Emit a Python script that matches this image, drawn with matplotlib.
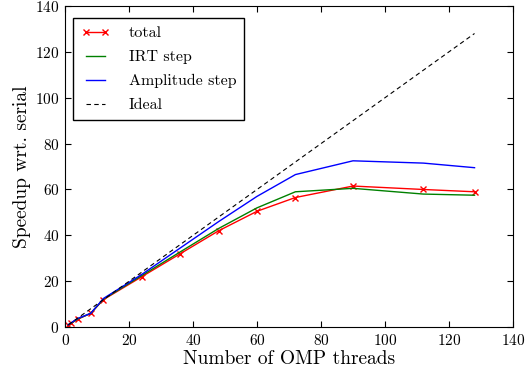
import matplotlib
matplotlib.use("Agg")
import matplotlib.pyplot as plt

threads = [1, 2, 4, 8, 12, 24, 36, 48, 60, 72, 90, 112, 128]
total = [1.0, 1.8, 3.5, 6.0, 12.0, 22.0, 32.0, 42.0, 50.5, 56.5, 61.5, 60.0, 59.0]
irt = [1.0, 1.8, 3.6, 6.0, 12.2, 22.5, 32.8, 43.0, 52.0, 59.0, 60.5, 58.0, 57.5]
amp = [1.0, 2.0, 3.8, 6.0, 12.5, 23.0, 34.5, 46.0, 57.0, 66.5, 72.5, 71.5, 69.5]
ideal = threads

plt.rcParams['font.family'] = 'serif'
plt.rcParams['font.serif'] = ['cmr10', 'DejaVu Serif']
plt.rcParams['mathtext.fontset'] = 'cm'
plt.rcParams['axes.formatter.use_mathtext'] = True

fig = plt.figure(figsize=(5.25, 3.73), dpi=100)
ax = fig.add_axes([0.124, 0.123, 0.853, 0.861])
ax.plot(threads, total, color='red', marker='x', lw=1, ms=5, label='total')
ax.plot(threads, irt, color='green', lw=1, label='IRT step')
ax.plot(threads, amp, color='blue', lw=1, label='Amplitude step')
ax.plot(threads, ideal, 'k--', lw=0.8, dashes=(4, 3), label='Ideal')
ax.set_xlim(0, 140)
ax.set_ylim(0, 140)
ax.set_xticks(range(0, 141, 20))
ax.set_yticks(range(0, 141, 20))
ax.tick_params(direction='in', top=True, right=True, labelsize=11, length=4, pad=4)
ax.set_xlabel('Number of OMP threads', fontsize=14, labelpad=2)
ax.set_ylabel('Speedup wrt. serial', fontsize=14, labelpad=3)
leg = ax.legend(loc='upper left', fontsize=11.5, fancybox=False, framealpha=1,
                edgecolor='black', borderaxespad=0,
                bbox_to_anchor=(73 / 525, 1 - 18 / 373), bbox_transform=fig.transFigure,
                handlelength=1.8, handletextpad=1.2, labelspacing=0.62,
                borderpad=0.5, numpoints=2)
leg.get_frame().set_linewidth(1)
fig.savefig('out.png', dpi=100)
